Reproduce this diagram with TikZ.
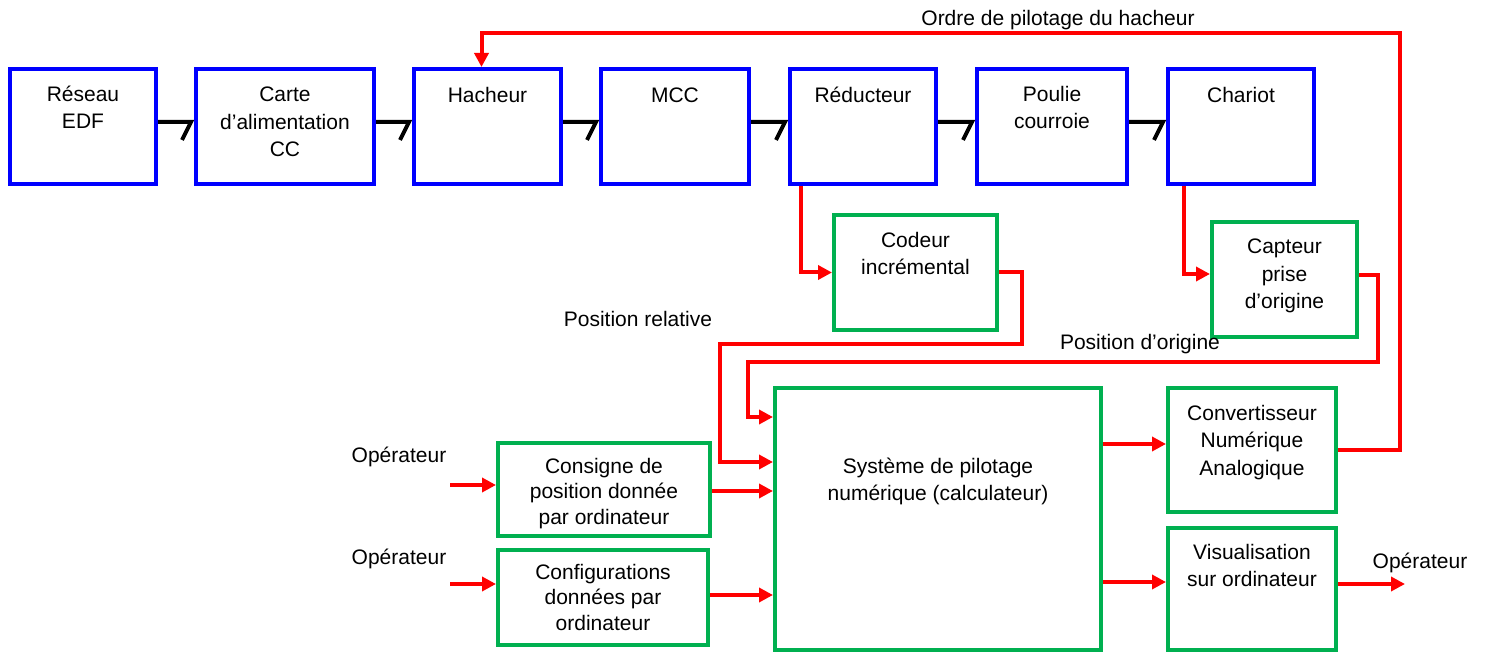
\documentclass[tikz,border=0pt]{standalone}
\usepackage{fontspec}
\setmainfont{Liberation Sans}
\usetikzlibrary{calc,arrows.meta}
\definecolor{boxblue}{RGB}{0,0,255}
\definecolor{boxgreen}{RGB}{0,176,80}
\definecolor{sigred}{RGB}{255,0,0}
\tikzset{
	blk/.style={draw=boxblue, line width=2pt, minimum height=57.5pt, inner sep=0pt},
	grn/.style={draw=boxgreen, line width=2pt, inner sep=0pt},
	txt/.style={anchor=base, align=center, inner sep=0pt, font=\fontsize{10.5}{13.75}\selectfont},
	tighttxt/.style={txt, font=\fontsize{10.5}{12.75}\selectfont},
	sig/.style={draw=sigred, line width=2pt, -{Triangle[length=7pt,width=7pt]}},
	bond/.style={line width=2pt},
}
\begin{document}
\begin{tikzpicture}[x=0.5pt,y=-0.5pt]
	\useasboundingbox (0,0) rectangle (1485,652);
	% chain of blue boxes; the base anchor of a text node is its last baseline
	\foreach \n/\x/\w/\d/\t in {reseau/83/73/62/{Réseau\\EDF},
		carte/285/89/90/{Carte\\d’alimentation\\CC},
		hacheur/487.5/73.5/36/{Hacheur}, mcc/675/74/36/{MCC},
		reducteur/863/73/36/{Réducteur}, poulie/1052/75/62/{Poulie\\courroie},
		chariot/1241/73/36/{Chariot}}
	{
		\node[blk, minimum width=\w pt] (\n) at (\x,126.5) {};
		\node[txt] (\n-t) at ($(\n.north)+(0,\d)$) {\t};
	}
	% power bonds between the boxes
	\foreach \a/\b in {reseau/carte, carte/hacheur, hacheur/mcc,
		mcc/reducteur, reducteur/poulie, poulie/chariot}
		\draw[bond] ($(\a.east)+(0,-4.5)$) -- ($(\b.west)+(-3,-4.5)$) -- ++(-9,18);

	% green boxes
	\node[grn, minimum width=81.5pt, minimum height=57.5pt] (codeur) at (915.5,272.5) {};
	\node[grn, minimum width=72.5pt, minimum height=57.5pt] (capteur) at (1284.5,279.5) {};
	\node[grn, minimum width=163pt, minimum height=131pt] (systeme) at (938,519) {};
	\node[grn, minimum width=84pt, minimum height=62pt] (cna) at (1252,450) {};
	\node[grn, minimum width=84pt, minimum height=61pt] (visu) at (1252,589) {};
	\node[grn, minimum width=106pt, minimum height=46.5pt] (consigne) at (604,489.5) {};
	\node[grn, minimum width=105pt, minimum height=47.5pt] (config) at (603,597.5) {};
	\node[txt] (codeur-t) at ($(codeur.north)+(0,62)$) {Codeur\\incrémental};
	\node[txt] (capteur-t) at ($(capteur.north)+(0,89)$) {Capteur\\prise\\d’origine};
	\node[txt] (systeme-t) at ($(systeme.north)+(0,115)$) {Système de pilotage\\numérique (calculateur)};
	\node[txt] (cna-t) at ($(cna.north)+(0,89)$) {Convertisseur\\Numérique\\Analogique};
	\node[txt] (visu-t) at ($(visu.north)+(0,61)$) {Visualisation\\sur ordinateur};
	\node[tighttxt] (consigne-t) at ($(consigne.north)+(0,83)$) {Consigne de\\position donnée\\par ordinateur};
	\node[tighttxt] (config-t) at ($(config.north)+(0,82)$) {Configurations\\données par\\ordinateur};

	% free labels
	\node[txt] (ordre) at (1058,26) {Ordre de pilotage du hacheur};
	\node[txt] (posrel) at (638,327) {Position relative};
	\node[txt] (posorig) at (1140,350) {Position d’origine};
	\node[txt] (op1) at (399,463) {Opérateur};
	\node[txt] (op2) at (399,564) {Opérateur};
	\node[txt] (op3) at (1420,568) {Opérateur};
	\coordinate (in1) at (450,485);
	\coordinate (in2) at (450,584);
	\coordinate (out1) at (1405,584);

	% red signal lines
	\draw[sig] ($(reducteur.south west)+(13,0)$) |- (codeur.west);
	\draw[sig] ($(chariot.south west)+(18,0)$) |- (capteur.west |- 0,274);
	\draw[sig] (codeur.east) -| (1022,344) -| (720,462) -- (systeme.west |- 0,462);
	\draw[sig] (capteur.east |- 0,275) -| (1378,362) -| (748,417) -- (systeme.west |- 0,417);
	\draw[sig] (cna.east) -| (1400,33) -| ($(hacheur.north)+(-6,0)$);
	\draw[sig] (consigne.east |- 0,491) -- (systeme.west |- 0,491);
	\draw[sig] (config.east |- 0,595) -- (systeme.west |- 0,595);
	\draw[sig] (systeme.east |- 0,444) -- (cna.west |- 0,444);
	\draw[sig] (systeme.east |- 0,582) -- (visu.west |- 0,582);
	\draw[sig] (visu.east |- 0,584) -- (out1);
	\draw[sig] (in1) -- (consigne.west |- in1);
	\draw[sig] (in2) -- (config.west |- in2);
\end{tikzpicture}
\end{document}
